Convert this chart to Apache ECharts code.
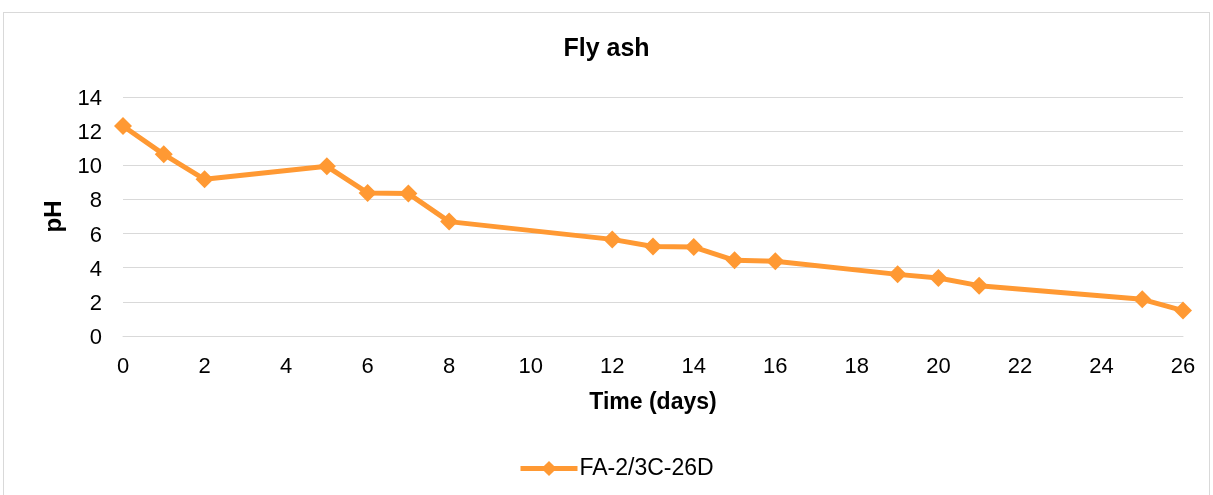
<!DOCTYPE html>
<html>
<head>
<meta charset="utf-8">
<script src="https://cdn.jsdelivr.net/npm/echarts@6/dist/echarts.min.js"></script>
<style>
  html, body { margin: 0; padding: 0; background: #fff; }
  #frame { position: absolute; left: 3px; top: 12px; width: 1207px; height: 490px; border: 1px solid #d9d9d9; box-sizing: border-box; }
  #chart { position: absolute; left: 0; top: 0; width: 1213px; height: 495px; }
</style>
</head>
<body>
<div id="frame"></div>
<div id="chart"></div>
<script>
// Time (days) and measured pH for the fly ash sample
const days = [0, 1, 2, 5, 6, 7, 8, 12, 13, 14, 15, 16, 19, 20, 21, 25, 26];
const phValues = [12.30, 10.64, 9.18, 9.94, 8.38, 8.34, 6.70, 5.66, 5.24, 5.21, 4.43, 4.38, 3.61, 3.40, 2.95, 2.15, 1.49];
const seriesName = 'FA-2/3C-26D';
const chartTitle = 'Fly ash';
const xAxisTitle = 'Time (days)';
const yAxisTitle = 'pH';

const orange = '#FF9933';
const font = '"Liberation Sans", Arial, sans-serif';

const chart = echarts.init(document.getElementById('chart'), null, { renderer: 'canvas' });
chart.setOption({
  animation: false,
  title: {
    text: chartTitle,
    left: 'center',
    top: 32,
    textStyle: { fontFamily: font, fontSize: 25, fontWeight: 'bold', color: '#000' }
  },
  legend: {
    top: 452,
    left: 513,
    itemWidth: 57,
    itemHeight: 19,
    itemGap: 4,
    lineStyle: { width: 5 },
    textStyle: { fontFamily: font, fontSize: 23, color: '#000', padding: [0, 0, 0, -3] },
    data: [seriesName]
  },
  grid: { left: 123, right: 30, top: 97, bottom: 159, containLabel: false },
  xAxis: {
    type: 'value',
    min: 0,
    max: 26,
    interval: 2,
    name: xAxisTitle,
    nameLocation: 'middle',
    nameGap: 55,
    nameTextStyle: { fontFamily: font, fontSize: 23, fontWeight: 'bold', color: '#000' },
    axisLine: { show: true, lineStyle: { color: '#d9d9d9', width: 1 } },
    axisTick: { show: false },
    splitLine: { show: false },
    axisLabel: { fontFamily: font, fontSize: 22, color: '#000', margin: 20 }
  },
  yAxis: {
    type: 'value',
    min: 0,
    max: 14,
    interval: 2,
    name: yAxisTitle,
    nameLocation: 'middle',
    nameGap: 53,
    nameRotate: 90,
    nameTextStyle: { fontFamily: font, fontSize: 24, fontWeight: 'bold', color: '#000' },
    axisLine: { show: false },
    axisTick: { show: false },
    splitLine: { show: true, lineStyle: { color: '#d9d9d9', width: 1 } },
    axisLabel: {
      margin: 21,
      formatter: '{v|{value}}',
      rich: { v: { fontFamily: font, fontSize: 22, color: '#000', padding: [4, 0, 0, 0] } }
    }
  },
  series: [{
    name: seriesName,
    type: 'line',
    data: days.map((d, i) => [d, phValues[i]]),
    symbol: 'diamond',
    symbolSize: 18,
    showAllSymbol: true,
    lineStyle: { color: orange, width: 5 },
    itemStyle: { color: orange },
    emphasis: { disabled: true }
  }]
});
</script>
</body>
</html>
